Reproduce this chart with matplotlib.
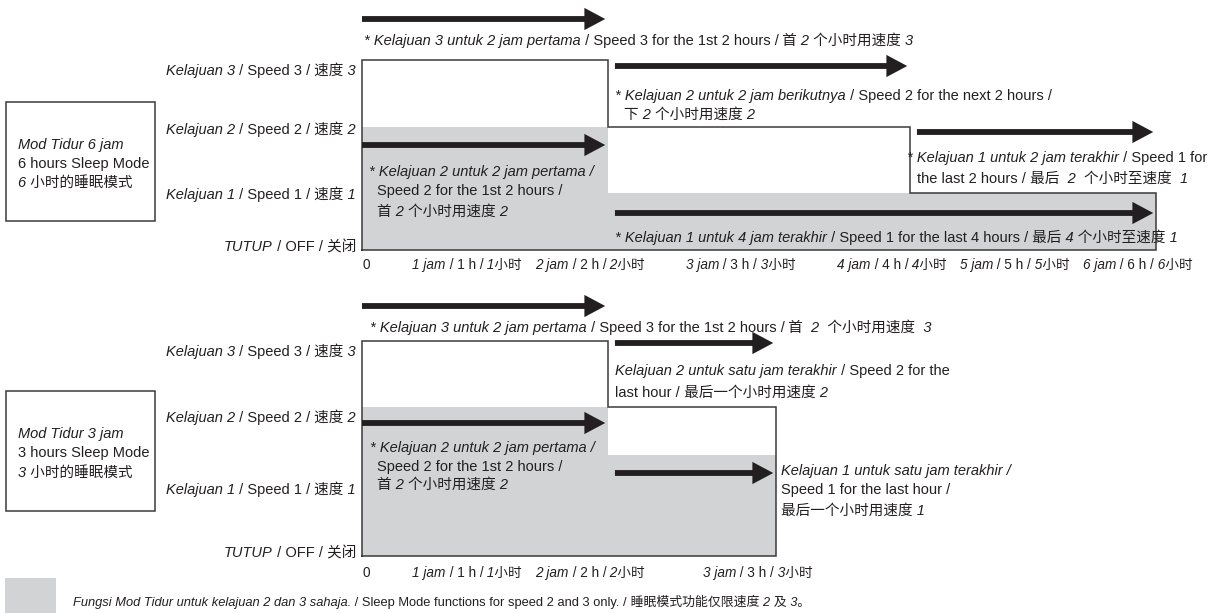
import numpy as np
import matplotlib
matplotlib.use("Agg")
import matplotlib.pyplot as plt
from matplotlib import transforms, font_manager
from matplotlib.offsetbox import TextArea, HPacker, AnnotationBbox
from matplotlib.patches import Rectangle

# ---------------- data ----------------
speed_levels = [3, 2, 1, 0]
speed_labels = ["_Kelajuan 3_ / Speed 3 /_ 速度 3_",
                "_Kelajuan 2_ / Speed 2 /_ 速度 2_",
                "_Kelajuan 1_ / Speed 1 /_ 速度 1_",
                "_TUTUP_ / OFF /_ 关闭_"]
hour_ticks_6 = [1, 2, 3, 4, 5, 6]
hour_ticks_3 = [1, 2, 3]
hour_labels = {h: f"_{h} jam_ / {h} h /_ {h}小时_" for h in range(1, 7)}

# 6-hour sleep mode: start at speed 3 (outline) / start at speed 2 (grey)
six_edges_s3 = [0, 2, 4, 6]
six_speed_s3 = [3, 2, 1]
six_edges_s2 = [0, 2, 6]
six_speed_s2 = [2, 1]
# 3-hour sleep mode
three_edges_s3 = [0, 2, 3]
three_speed_s3 = [3, 2]
three_edges_s2 = [0, 2, 3]
three_speed_s2 = [2, 1]

# ---------------- style / layout ----------------
W, H = 1215, 613
TXT = "#231f20"
LINE = "#3a3a3a"
GRAY = "#d1d3d4"
ARROW = "#231f20"
FS = 10.5
FS_TICK = 9.8
FS_FOOT = 9.3
names = {f.name for f in font_manager.fontManager.ttflist}
LATIN = "Liberation Sans" if "Liberation Sans" in names else "DejaVu Sans"
FAM = [LATIN, "Noto Sans CJK SC", "DejaVu Sans"]

fig = plt.figure(figsize=(W / 100, H / 100), dpi=100)
fig.patch.set_facecolor("white")

ov = fig.add_axes([0, 0, 1, 1], zorder=3)
ov.set_xlim(0, W)
ov.set_ylim(H, 0)
ov.axis("off")
ov.patch.set_alpha(0)


def piecewise(kin, kout):
    kin = np.asarray(kin, float)
    kout = np.asarray(kout, float)
    s0 = (kout[1] - kout[0]) / (kin[1] - kin[0])
    s1 = (kout[-1] - kout[-2]) / (kin[-1] - kin[-2])

    def f(v):
        v = np.asarray(v, float)
        out = np.interp(v, kin, kout)
        out = np.where(v < kin[0], kout[0] + (v - kin[0]) * s0, out)
        out = np.where(v > kin[-1], kout[-1] + (v - kin[-1]) * s1, out)
        return out
    return f


def make_panel(hx_knots, hx_px, level_px):
    ax = fig.add_axes([0, 0, 1, 1], zorder=1)
    fx = piecewise(hx_knots, hx_px)
    ix = piecewise(hx_px, hx_knots)
    up = [H - p for p in level_px]
    fy = piecewise([0, 1, 2, 3], up)
    iy = piecewise(up, [0, 1, 2, 3])
    ax.set_xscale("function", functions=(fx, ix))
    ax.set_yscale("function", functions=(fy, iy))
    ax.set_xlim(float(ix(0)), float(ix(W)))
    ax.set_ylim(float(iy(0)), float(iy(H)))
    ax.axis("off")
    ax.patch.set_alpha(0)
    return ax


def rich(x, y, s, ha="left", trans=None, offset=(0, 0), size=FS):
    parts = s.split("_")
    kids = []
    for i, t in enumerate(parts):
        if not t:
            continue
        kids.append(TextArea(t, textprops=dict(style="italic" if i % 2 else "normal",
                                               family=FAM, fontsize=size, color=TXT)))
    box = HPacker(children=kids, sep=0, pad=0, align="baseline")
    bx = {"left": 0, "center": 0.5, "right": 1}[ha]
    ab = AnnotationBbox(box, (x, y), xycoords=trans if trans is not None else ov.transData,
                        xybox=offset, boxcoords="offset points",
                        box_alignment=(bx, 0.5), frameon=False, pad=0)
    ov.add_artist(ab)


def outline(ax, edges, speeds):
    xs = [edges[0]]
    ys = [0]
    for i, s in enumerate(speeds):
        xs += [edges[i], edges[i + 1]]
        ys += [s, s]
    xs += [edges[-1], edges[0]]
    ys += [0, 0]
    ax.plot(xs, ys, color=LINE, lw=1.1, solid_joinstyle="miter", zorder=3)


def grey(ax, edges, speeds):
    ax.fill_between(edges, list(speeds) + [speeds[-1]], 0, step="post",
                    color=GRAY, lw=0, zorder=1)


def arrows(ax, edges, ypx_list):
    bl = transforms.blended_transform_factory(ax.transData, ov.transData)
    for i, ypx in enumerate(ypx_list):
        h0, h1 = edges[i], edges[i + 1]
        ov.annotate("", xy=(h1, ypx), xytext=(h0, ypx), xycoords=bl, textcoords=bl,
                    arrowprops=dict(arrowstyle="simple,head_length=1.5,head_width=1.6,tail_width=0.42",
                                    fc=ARROW, ec="none", lw=0, mutation_scale=10,
                                    shrinkA=0 if h0 == 0 else 5, shrinkB=2))


def panel(hx_knots, hx_px, level_px, e3, s3, e2, s2, arr3_y, arr2_y, ylab_y, xlab_y, ticks):
    ax = make_panel(hx_knots, hx_px, level_px)
    grey(ax, e2, s2)
    outline(ax, e3, s3)
    arrows(ax, e3, arr3_y)
    arrows(ax, e2, arr2_y)
    for lab, y in zip(speed_labels, ylab_y):
        rich(356, y, lab, ha="right")
    bl = transforms.blended_transform_factory(ax.transData, ov.transData)
    rich(0, xlab_y, "0", ha="left", trans=bl, offset=(0.5, 0), size=FS_TICK)
    for h in ticks:
        rich(h, xlab_y, hour_labels[h], ha="center", trans=bl, offset=(-13, 0), size=FS_TICK)
    return ax


# ---- top panel: 6 hours ----
panel([0, 2, 4, 6], [362, 608, 910, 1156], [250, 193, 127, 60],
      six_edges_s3, six_speed_s3, six_edges_s2, six_speed_s2,
      [19, 66, 132], [145, 213], [71, 130, 195, 247], 265, hour_ticks_6)
ov.add_patch(Rectangle((6, 102), 149, 119, fill=False, ec=LINE, lw=1.1))
rich(18, 145, "_Mod Tidur 6 jam_")
rich(18, 164, "6 hours Sleep Mode")
rich(18, 183, "_6 小时的睡眠模式_")

rich(364, 41, "_* Kelajuan 3 untuk 2 jam pertama_ / Speed 3 for the 1st 2 hours /_ 首 2 个小时用速度 3_")
rich(615, 96, "_* Kelajuan 2 untuk 2 jam berikutnya_ / Speed 2 for the next 2 hours /")
rich(624, 115, "_下 2 个小时用速度 2_")
rich(907, 158, "_* Kelajuan 1 untuk 2 jam terakhir_ / Speed 1 for")
rich(917, 179, "the last 2 hours /_ 最后  2  个小时至速度  1_")
rich(369, 172, "_* Kelajuan 2 untuk 2 jam pertama /_")
rich(377, 191, "Speed 2 for the 1st 2 hours /")
rich(377, 212, "_首 2 个小时用速度 2_")
rich(615, 238, "_* Kelajuan 1 untuk 4 jam terakhir_ / Speed 1 for the last 4 hours /_ 最后 4 个小时至速度 1_")

# ---- bottom panel: 3 hours ----
panel([0, 2, 3], [362, 608, 776], [556, 455, 407, 341],
      three_edges_s3, three_speed_s3, three_edges_s2, three_speed_s2,
      [306, 343], [423, 473], [352, 418, 490, 553], 573, hour_ticks_3)
ov.add_patch(Rectangle((6, 391), 149, 120, fill=False, ec=LINE, lw=1.1))
rich(18, 434, "_Mod Tidur 3 jam_")
rich(18, 453, "3 hours Sleep Mode")
rich(18, 473, "_3 小时的睡眠模式_")

rich(370, 328, "_* Kelajuan 3 untuk 2 jam pertama_ / Speed 3 for the 1st 2 hours /_ 首  2  个小时用速度  3_")
rich(615, 371, "_Kelajuan 2 untuk satu jam terakhir_ / Speed 2 for the")
rich(615, 393, "last hour /_ 最后一个小时用速度 2_")
rich(370, 448, "_* Kelajuan 2 untuk 2 jam pertama /_")
rich(377, 467, "Speed 2 for the 1st 2 hours /")
rich(377, 485, "_首 2 个小时用速度 2_")
rich(781, 471, "_Kelajuan 1 untuk satu jam terakhir /_")
rich(781, 490, "Speed 1 for the last hour /")
rich(781, 511, "_最后一个小时用速度 1_")

# ---- legend ----
ov.add_patch(Rectangle((5, 578), 51, 40, fc=GRAY, ec="none"))
rich(73, 603, "_Fungsi Mod Tidur untuk kelajuan 2 dan 3 sahaja._ / Sleep Mode functions for speed 2 and 3 only. /_ 睡眠模式功能仅限速度 2 及 3。_",
     size=FS_FOOT)

fig.savefig("out.png", dpi=100, facecolor="white")
